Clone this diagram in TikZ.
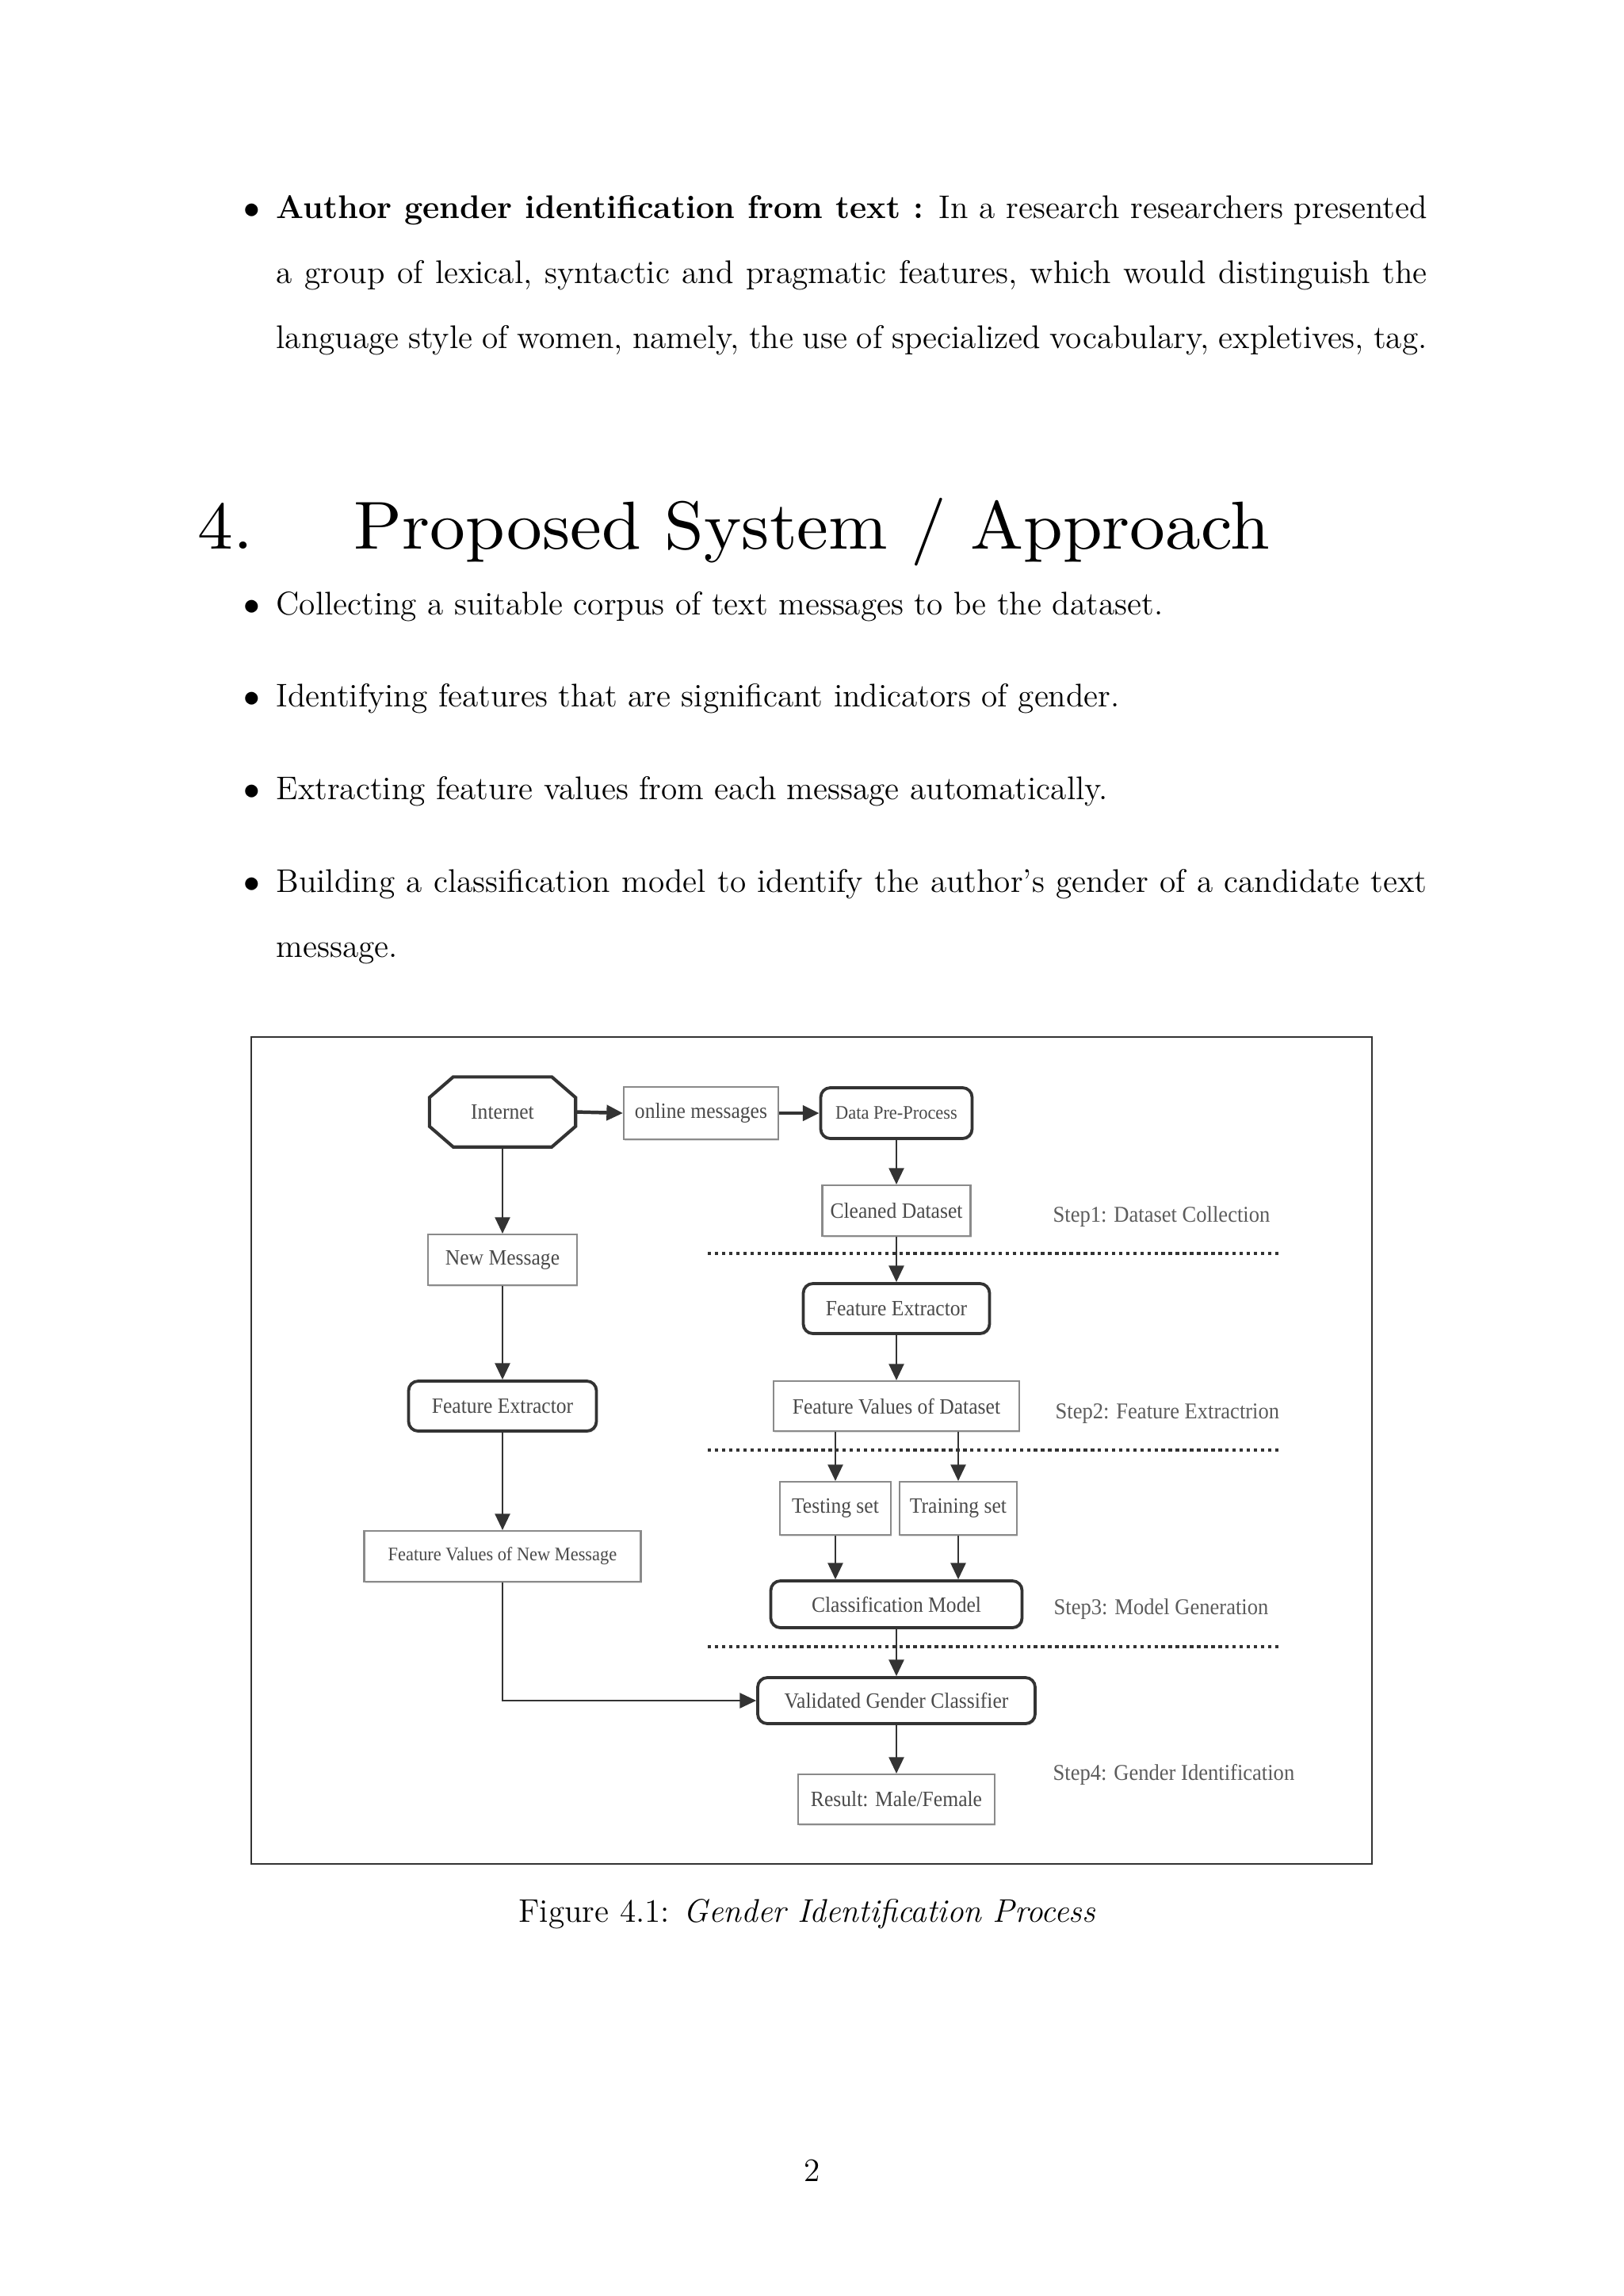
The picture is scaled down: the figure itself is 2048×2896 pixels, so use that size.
\documentclass[tikz,border=0pt]{standalone}
\usepackage{fontspec}
\usetikzlibrary{arrows.meta,calc,shadows}
\newfontfamily\dfont[FakeStretch=0.93]{Liberation Serif}
\newfontfamily\headfont[FakeStretch=1.045]{lmroman10-regular.otf}
\newcommand\pxu{0.29066pt}
\definecolor{boxgray}{HTML}{8A8A8A}
\definecolor{linedark}{HTML}{333333}
\definecolor{txtgray}{HTML}{4A4A4A}
\definecolor{lblgray}{HTML}{5C5C5C}
\tikzset{
  body/.style={inner sep=0pt, anchor=base west, font=\fontsize{12}{14.5}\selectfont},
  wh/.style 2 args={minimum width=#1*\pxu, minimum height=#2*\pxu},
  dshadow/.style={drop shadow={shadow xshift=0.4pt, shadow yshift=-0.7pt, fill=black!22, opacity=0.6}},
  plainbox/.style={draw=boxgray, line width=0.6pt, inner sep=0pt, fill=white, dshadow,
    font=\dfont\fontsize{8}{9}\selectfont, text=txtgray},
  roundbox/.style={draw=linedark, line width=1.1pt, rounded corners=3.5pt, inner sep=0pt, fill=white, dshadow,
    font=\dfont\fontsize{8}{9}\selectfont, text=txtgray},
  arr/.style={draw=linedark, line width=0.75pt, -{Triangle[length=6pt,width=5.5pt]}},
  thickarr/.style={arr, line width=1.3pt},
  sepline/.style={draw=linedark, line width=0.9pt, dash pattern=on 1.3pt off 1.3pt},
  steplbl/.style={anchor=west, inner sep=0pt, font=\dfont\fontsize{8.3}{9}\selectfont, text=lblgray},
  headtxt/.style={inner sep=0pt, anchor=base west, font=\headfont\fontsize{24.88}{30}\selectfont},
}
\begin{document}
\begin{tikzpicture}[x=0.29066pt,y=-0.29066pt]
\useasboundingbox[fill=white] (0,0) rectangle (2048,2896);

% ---- body text ----
\node[body, anchor=base] (b1) at (318,275) {$\bullet$};
\node[body] (p1) at (348,275) {\makebox[422pt][s]{\textbf{Author gender identification from text :} In a research researchers presented}};
\node[body] (p2) at (348,357) {\makebox[422pt][s]{a group of lexical, syntactic and pragmatic features, which would distinguish the}};
\node[body] (p3) at (348,439) {\makebox[422pt][s]{language style of women, namely, the use of specialized vocabulary, expletives, tag.}};

\node[headtxt] (hnum) at (249,692) {4.};
\node[headtxt] (htitle) at (446,692) {Proposed System / Approach};

\node[body, anchor=base] (b2) at (318,775) {$\bullet$};
\node[body] (q1) at (348,775) {Collecting a suitable corpus of text messages to be the dataset.};
\node[body, anchor=base] (b3) at (318,891) {$\bullet$};
\node[body] (q2) at (348,891) {Identifying features that are significant indicators of gender.};
\node[body, anchor=base] (b4) at (318,1008) {$\bullet$};
\node[body] (q3) at (348,1008) {Extracting feature values from each message automatically.};
\node[body, anchor=base] (b5) at (318,1125) {$\bullet$};
\node[body] (q4) at (348,1125) {\makebox[422pt][s]{Building a classification model to identify the author's gender of a candidate text}};
\node[body] (q5) at (348,1207) {message.};

% ---- figure frame ----
\draw[linedark, line width=0.6pt] (317,1308) rectangle (1731,2351);

% ---- left column ----
\node[inner sep=0pt, wh={183}{87}, font=\dfont\fontsize{8}{9}\selectfont, text=txtgray] (inet) at (634,1402.5) {Internet};
\draw[linedark, line width=1.2pt, fill=none]
  ($(inet.north west)+(30,0)$) -- ($(inet.north east)+(-30,0)$) -- ($(inet.north east)+(0,26)$)
  -- ($(inet.south east)+(0,-26)$) -- ($(inet.south east)+(-30,0)$) -- ($(inet.south west)+(30,0)$)
  -- ($(inet.south west)+(0,-26)$) -- ($(inet.north west)+(0,26)$) -- cycle;

\node[plainbox, wh={188}{64}] (newmsg) at (634,1589) {New Message};
\node[roundbox, wh={237}{63}] (fel) at (634,1773.5) {Feature Extractor};
\node[plainbox, wh={349}{64}, font=\dfont\fontsize{7}{8}\selectfont] (fvnm) at (634,1963) {Feature Values of New Message};

% ---- right column ----
\node[plainbox, wh={195}{66}] (online) at (884.5,1404) {online messages};
\node[roundbox, wh={191}{64}, font=\dfont\fontsize{7}{8}\selectfont] (dpp) at (1131,1404) {Data Pre-Process};
\node[plainbox, wh={187}{64}] (clean) at (1131,1527) {Cleaned Dataset};
\node[roundbox, wh={235}{63}] (fer) at (1131,1650.5) {Feature Extractor};
\node[plainbox, wh={310}{63}] (fvd) at (1131,1773.5) {Feature Values of Dataset};
\node[plainbox, wh={140}{67}] (test) at (1054,1902.5) {Testing set};
\node[plainbox, wh={148}{67}] (train) at (1209,1902.5) {Training set};
\node[roundbox, wh={317}{59}] (cm) at (1131,2023.5) {Classification Model};
\node[roundbox, wh={350}{58}] (vgc) at (1131,2145) {Validated Gender Classifier};
\node[plainbox, wh={248}{63}] (res) at (1131,2269.5) {Result: Male/Female};

% ---- step labels ----
\node[steplbl] (s1) at (1328,1535) {Step1: Dataset Collection};
\node[steplbl] (s2) at (1331,1783) {Step2: Feature Extractrion};
\node[steplbl] (s3) at (1329,2030) {Step3: Model Generation};
\node[steplbl] (s4) at (1328,2238) {Step4: Gender Identification};

% ---- dotted separators ----
\coordinate (d1a) at (893,1581); \coordinate (d1b) at (1615,1581);
\coordinate (d2a) at (893,1829); \coordinate (d2b) at (1615,1829);
\coordinate (d3a) at (893,2077); \coordinate (d3b) at (1615,2077);
\draw[sepline] (d1a) -- (d1b);
\draw[sepline] (d2a) -- (d2b);
\draw[sepline] (d3a) -- (d3b);

% ---- connectors ----
\draw[thickarr] (inet.east) -- (online.west);
\draw[thickarr] (online.east) -- (dpp.west);
\draw[arr] (dpp.south) -- (clean.north);
\draw[arr] (clean.south) -- (fer.north);
\draw[arr] (fer.south) -- (fvd.north);
\draw[arr] (fvd.south -| test.north) -- (test.north);
\draw[arr] (fvd.south -| train.north) -- (train.north);
\draw[arr] (test.south) -- (test.south |- cm.north);
\draw[arr] (train.south) -- (train.south |- cm.north);
\draw[arr] (cm.south) -- (vgc.north);
\draw[arr] (vgc.south) -- (res.north);
\draw[arr] (inet.south) -- (newmsg.north);
\draw[arr] (newmsg.south) -- (fel.north);
\draw[arr] (fel.south) -- (fvnm.north);
\draw[arr] (fvnm.south) |- (vgc.west);

% ---- caption and page number ----
\node[body, anchor=base] (cap) at (1018.5,2424) {Figure 4.1: \textit{Gender Identification Process}};
\node[body, anchor=base] (pg) at (1024.5,2751) {2};
\end{tikzpicture}
\end{document}
